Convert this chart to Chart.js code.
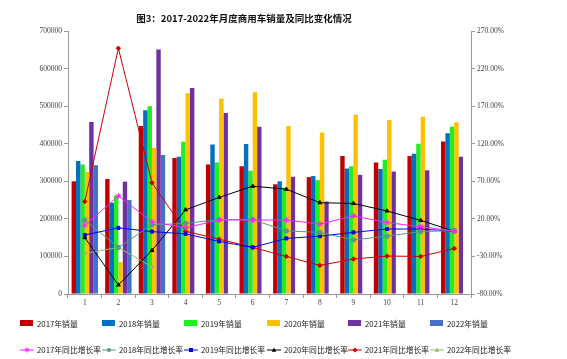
<!DOCTYPE html>
<html>
<head>
<meta charset="utf-8">
<script src="https://cdn.jsdelivr.net/npm/chart.js@4/dist/chart.umd.min.js"></script>
<style>
  body { margin: 0; background: #fff; }
  #wrap { position: relative; width: 567px; height: 359px; }
  #title { position: absolute; left: 0; width: 488px; top: 11px; text-align: center;
           font: bold 9.5px "Noto Sans CJK SC", sans-serif; color: #111; }
  .lg { position: absolute; font: 7.8px "Noto Sans CJK SC", sans-serif; color: #222;
        white-space: nowrap; display: flex; align-items: center; }
  .lg svg { margin-right: 2px; }
</style>
</head>
<body>
<div id="wrap">
  <canvas id="myChart" width="567" height="359"></canvas>
  <div id="title">图3：2017-2022年月度商用车销量及同比变化情况</div>
  <div id="legend"></div>
</div>
<script>
var months = ['1', '2', '3', '4', '5', '6', '7', '8', '9', '10', '11', '12'];

var sales2017 = [300000, 306000, 447000, 362000, 345000, 340000, 292000, 311000, 367000, 350000, 367000, 406000];
var sales2018 = [354000, 243000, 489000, 365000, 398000, 399000, 300000, 314000, 334000, 333000, 373000, 428000];
var sales2019 = [345000, 262000, 500000, 405000, 350000, 328000, 283000, 303000, 340000, 357000, 400000, 445000];
var sales2020 = [325000, 85000, 389000, 534000, 520000, 537000, 447000, 430000, 477000, 463000, 472000, 457000];
var sales2021 = [458000, 299000, 651000, 548000, 482000, 445000, 312000, 246000, 317000, 326000, 329000, 365000];
var sales2022 = [343000, 250000, 370000, null, null, null, null, null, null, null, null, null];

var yoy2017 = [11.5, 50.5, 16, 8, 18.5, 18.5, 18.5, 13, 24, 15, 9.5, 4];
var yoy2018 = [18.5, -18, 12, 14, 19, 19, 4, 2, -8, -3, 3, 4.5];
var yoy2019 = [-1.5, 8, 3, 0, -10, -18, -6, -3, 2, 6.5, 6.5, 3.5];
var yoy2020 = [-5, -68, -22, 32, 48.5, 63.5, 59.5, 41.5, 40.5, 30.5, 18, 3.5];
var yoy2021 = [43, 247, 68, 3.5, -7, -18, -30, -42, -33.5, -29.5, -30, -19.5];
var yoy2022 = [-26, -18, -44, null, null, null, null, null, null, null, null, null];

var leftTicks = [0, 100000, 200000, 300000, 400000, 500000, 600000, 700000];
var rightTicks = [-80, -30, 20, 70, 120, 170, 220, 270];

var barNames = ['2017年销量', '2018年销量', '2019年销量', '2020年销量', '2021年销量', '2022年销量'];
var barColors = ['#c00000', '#0070c0', '#22ee22', '#ffc000', '#7030a0', '#4472c4'];
var lineNames = ['2017年同比增长率', '2018年同比增长率', '2019年同比增长率', '2020年同比增长率', '2021年同比增长率', '2022年同比增长率'];
var lineColors = ['#ff22ff', '#559988', '#0000ee', '#000000', '#cc0000', '#99bb66'];
var lineMarkers = ['star', 'circle', 'rect', 'triangle', 'rectRot', 'triangle'];

var salesData = [sales2017, sales2018, sales2019, sales2020, sales2021, sales2022];
var yoyData = [yoy2017, yoy2018, yoy2019, yoy2020, yoy2021, yoy2022];

var datasets = [];
yoyData.forEach(function(d, i) {
    datasets.push({
        type: 'line',
        label: lineNames[i],
        data: d,
        yAxisID: 'y1',
        borderColor: lineColors[i],
        backgroundColor: lineColors[i],
        borderWidth: 1,
        pointStyle: lineMarkers[i],
        pointRadius: lineMarkers[i] === 'star' ? 3 : 2.2,
        pointBorderWidth: 1,
        tension: 0,
        spanGaps: false,
        order: 0
    });
});
salesData.forEach(function(d, i) {
    datasets.push({
        type: 'bar',
        label: barNames[i],
        data: d,
        yAxisID: 'y',
        backgroundColor: barColors[i],
        borderWidth: 0,
        categoryPercentage: 0.786,
        barPercentage: 1.0,
        order: 1
    });
});

var tickFont = { family: '"Liberation Serif", "DejaVu Serif", serif', size: 7.5 };

var ctx = document.getElementById('myChart').getContext('2d');
var chart = new Chart(ctx, {
    data: { labels: months, datasets: datasets },
    options: {
        responsive: false,
        animation: false,
        layout: { padding: { left: 0, right: 0, top: 31, bottom: 50 } },
        plugins: { legend: { display: false }, tooltip: { enabled: false } },
        scales: {
            x: {
                afterFit: function(s) { s.height = 15; },
                grid: { drawOnChartArea: false, drawTicks: true, tickLength: 4, color: '#999', offset: true },
                border: { display: true, color: '#999' },
                ticks: { font: tickFont, color: '#444', padding: 1 }
            },
            y: {
                position: 'left',
                min: 0, max: 700000,
                afterFit: function(s) { s.width = 68; },
                afterBuildTicks: function(s) { s.ticks = leftTicks.map(function(v) { return { value: v }; }); },
                grid: { drawOnChartArea: false, drawTicks: true, tickLength: 4, color: '#999' },
                border: { display: true, color: '#999' },
                ticks: { font: tickFont, color: '#444', padding: 2,
                         callback: function(v) { return String(v); } }
            },
            y1: {
                position: 'right',
                min: -80, max: 270,
                afterFit: function(s) { s.width = 96; },
                afterBuildTicks: function(s) { s.ticks = rightTicks.map(function(v) { return { value: v }; }); },
                grid: { drawOnChartArea: false, drawTicks: true, tickLength: 4, color: '#999' },
                border: { display: true, color: '#999' },
                ticks: { font: tickFont, color: '#444', padding: 2,
                         callback: function(v) { return v.toFixed(2) + '%'; } }
            }
        }
    }
});

// legend laid out like the original: two rows of six
var legend = document.getElementById('legend');
var legendX = [20, 102, 184, 267, 348, 430];
barNames.forEach(function(name, i) {
    var el = document.createElement('div');
    el.className = 'lg';
    el.style.left = legendX[i] + 'px';
    el.style.top = '318px';
    el.innerHTML = '<svg width="15" height="7"><rect x="0" y="0" width="13" height="6" fill="' + barColors[i] + '"/></svg>' + name;
    legend.appendChild(el);
});
function markerSvg(kind, c) {
    if (kind === 'star') return '<path d="M7 1.5 L7 6.5 M4.6 4 L9.4 4 M5.3 2.3 L8.7 5.7 M8.7 2.3 L5.3 5.7" stroke="' + c + '" stroke-width="1"/>';
    if (kind === 'circle') return '<circle cx="7" cy="4" r="2" fill="' + c + '"/>';
    if (kind === 'rect') return '<rect x="5" y="2" width="4" height="4" fill="' + c + '"/>';
    if (kind === 'triangle') return '<path d="M7 1.5 L9.3 5.8 L4.7 5.8 Z" fill="' + c + '"/>';
    return '<path d="M7 1.5 L9.5 4 L7 6.5 L4.5 4 Z" fill="' + c + '"/>';
}
lineNames.forEach(function(name, i) {
    var el = document.createElement('div');
    el.className = 'lg';
    el.style.left = legendX[i] + 'px';
    el.style.top = '344px';
    el.innerHTML = '<svg width="15" height="8"><line x1="0" y1="4" x2="14" y2="4" stroke="' + lineColors[i] + '" stroke-width="1"/>' +
        markerSvg(lineMarkers[i], lineColors[i]) + '</svg>' + name;
    legend.appendChild(el);
});
</script>
</body>
</html>
